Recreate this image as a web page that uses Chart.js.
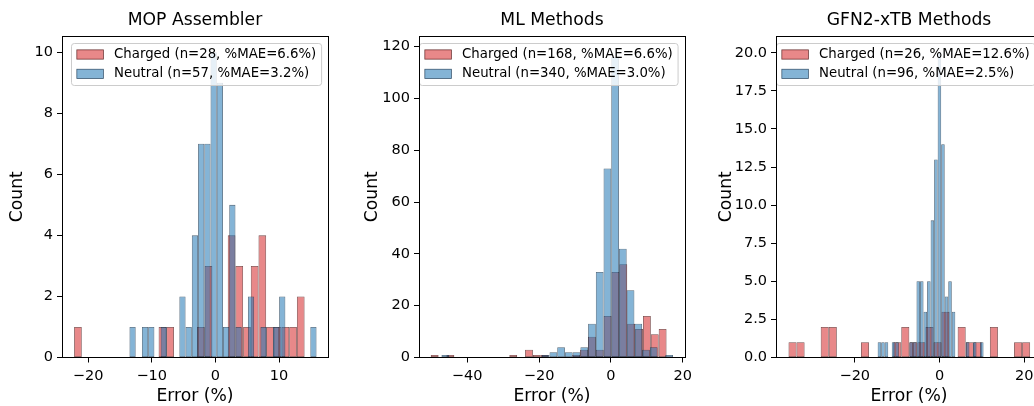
<!DOCTYPE html>
<html>
<head>
<meta charset="utf-8">
<script src="https://cdn.jsdelivr.net/npm/chart.js@4.4.1/dist/chart.umd.min.js"></script>
<style>
  html, body { margin: 0; padding: 0; background: #ffffff; overflow: hidden; width: 1034px; height: 406px; position: relative; }
  .panel { position: absolute; top: 0; height: 406px; }
  canvas { display: block; }
</style>
</head>
<body>
<div class="panel" style="left:0px"><canvas id="c1" width="340" height="406"></canvas></div>
<div class="panel" style="left:355px"><canvas id="c2" width="342" height="406"></canvas></div>
<div class="panel" style="left:709px"><canvas id="c3" width="345" height="406"></canvas></div>
<script>
// ---------------- data ----------------
const panelTitles = ['MOP Assembler', 'ML Methods', 'GFN2-xTB Methods'];
const xAxisLabel = 'Error (%)';
const yAxisLabel = 'Count';

// MOP Assembler: histogram bin ranges [first edge, last edge] and counts per bin (30 bins)
const mopChargedRange = [-22.2, 14.02];
const mopChargedCounts = [1,0,0,0,0,0,0,0,0,0,0,1,1,0,0,0,1,3,0,0,4,3,1,3,4,1,1,1,1,2];
const mopNeutralRange = [-13.5, 15.9];
const mopNeutralCounts = [1,0,1,1,0,1,0,0,2,1,4,7,7,10,9,1,5,1,0,2,0,1,0,1,2,0,0,0,0,1];
const mopLegend = ['Charged (n=28, %MAE=6.6%)', 'Neutral (n=57, %MAE=3.2%)'];
const mopXTicks = [-20, -10, 0, 10];
const mopYTicks = [0, 2, 4, 6, 8, 10];

// ML Methods
const mlChargedRange = [-50.14, 15.47];
const mlChargedCounts = [1,0,1,0,0,0,0,0,0,0,1,0,3,1,1,0,0,0,1,3,8,3,16,33,36,13,11,16,9,11];
const mlNeutralRange = [-47.15, 17.26];
const mlNeutralCounts = [1,0,0,0,0,0,0,0,0,0,0,0,0,1,2,4,2,2,4,13,33,73,116,42,26,13,3,4,0,1];
const mlLegend = ['Charged (n=168, %MAE=6.6%)', 'Neutral (n=340, %MAE=3.0%)'];
const mlXTicks = [-40, -20, 0, 20];
const mlYTicks = [0, 20, 40, 60, 80, 100, 120];

// GFN2-xTB Methods
const gfnChargedRange = [-35.65, 21.4];
const gfnChargedCounts = [1,1,0,0,2,2,0,0,0,1,0,0,0,1,2,1,1,2,1,3,0,2,1,1,0,2,0,0,1,1];
const gfnNeutralRange = [-14.6, 10.4];
const gfnNeutralCounts = [1,1,1,0,1,1,0,0,0,1,1,5,5,3,5,9,13,20,14,4,5,3,0,0,0,1,0,1,0,1];
const gfnLegend = ['Charged (n=26, %MAE=12.6%)', 'Neutral (n=96, %MAE=2.5%)'];
const gfnXTicks = [-20, 0, 20];
const gfnYTicks = [0, 2.5, 5, 7.5, 10, 12.5, 15, 17.5, 20];

// ---------------- styling ----------------
const FONT = 'DejaVu Sans';
Chart.defaults.font.family = FONT;
Chart.defaults.color = '#000000';

const RED_FACE = 'rgba(214,39,40,0.55)';
const RED_EDGE = 'rgba(60,0,0,0.7)';
const BLUE_FACE = 'rgba(31,119,180,0.55)';
const BLUE_EDGE = 'rgba(15,45,70,0.72)';

const TICK_SIZE = 14.5;
const LABEL_SIZE = 17.2;
const LEGEND_SIZE = 13.3;

function binPoints(range, counts) {
  const w = (range[1] - range[0]) / counts.length;
  return counts.map((c, i) => ({ x: range[0] + w * (i + 0.5), y: c }));
}

function fmtMinus(v) {
  return v < 0 ? '\u2212' + Math.abs(v) : String(v);
}

const framePlugin = {
  id: 'frame',
  afterDatasetsDraw(chart) {
    const ctx = chart.ctx, a = chart.chartArea;
    ctx.save();
    ctx.strokeStyle = '#000000';
    ctx.lineWidth = 1;
    ctx.beginPath();
    const yt = Math.floor(a.top) + 0.5;
    const xr = Math.round(a.right) + 0.5;
    ctx.moveTo(Math.round(a.left), yt);
    ctx.lineTo(xr + 0.5, yt);
    ctx.moveTo(xr, yt);
    ctx.lineTo(xr, Math.round(a.bottom));
    ctx.stroke();
    ctx.restore();
  }
};

const legendPlugin = {
  id: 'boxLegend',
  afterDatasetsDraw(chart) {
    const ctx = chart.ctx, a = chart.chartArea;
    const fs = LEGEND_SIZE;
    const ds = chart.data.datasets;
    ctx.save();
    ctx.font = fs + 'px "' + FONT + '"';
    const tw = Math.max(...ds.map(d => ctx.measureText(d.label).width));
    const pad = 0.4 * fs, hl = 2 * fs, hh = 0.7 * fs, htp = 0.8 * fs, pitch = 19.4;
    const w = pad + hl + htp + tw + pad;
    const h = 42;
    const x0 = Math.round(a.right - 7 - w) + 0.5, y0 = Math.round(a.top + 7) + 0.5;
    const r = 2.8;
    ctx.beginPath();
    ctx.moveTo(x0 + r, y0);
    ctx.lineTo(x0 + w - r, y0);
    ctx.quadraticCurveTo(x0 + w, y0, x0 + w, y0 + r);
    ctx.lineTo(x0 + w, y0 + h - r);
    ctx.quadraticCurveTo(x0 + w, y0 + h, x0 + w - r, y0 + h);
    ctx.lineTo(x0 + r, y0 + h);
    ctx.quadraticCurveTo(x0, y0 + h, x0, y0 + h - r);
    ctx.lineTo(x0, y0 + r);
    ctx.quadraticCurveTo(x0, y0, x0 + r, y0);
    ctx.closePath();
    ctx.fillStyle = 'rgba(255,255,255,0.8)';
    ctx.fill();
    ctx.strokeStyle = '#cccccc';
    ctx.lineWidth = 1;
    ctx.stroke();
    ds.forEach((d, i) => {
      const cy = y0 + 11 + i * pitch;
      const px = x0 + pad;
      ctx.fillStyle = d.backgroundColor;
      ctx.fillRect(px, cy - hh / 2, hl, hh);
      ctx.strokeStyle = d.borderColor;
      ctx.lineWidth = 0.8;
      ctx.strokeRect(px, cy - hh / 2, hl, hh);
      ctx.fillStyle = '#000000';
      ctx.textBaseline = 'middle';
      ctx.textAlign = 'left';
      ctx.fillText(d.label, px + hl + htp, cy);
    });
    ctx.restore();
  }
};

function makePanel(canvasId, cfg) {
  const tickFont = { family: FONT, size: TICK_SIZE };
  const labelFont = { family: FONT, size: LABEL_SIZE, lineHeight: '19px' };
  const barCommon = {
    borderWidth: 0.8,
    borderSkipped: false,
    grouped: false,
    categoryPercentage: 1.0,
    barPercentage: 1.0,
    inflateAmount: 0
  };
  return new Chart(document.getElementById(canvasId), {
    type: 'bar',
    data: {
      datasets: [
        Object.assign({
          label: cfg.legend[0],
          data: binPoints(cfg.chargedRange, cfg.chargedCounts),
          xAxisID: 'x',
          backgroundColor: RED_FACE,
          borderColor: RED_EDGE,
          order: 1
        }, barCommon),
        Object.assign({
          label: cfg.legend[1],
          data: binPoints(cfg.neutralRange, cfg.neutralCounts),
          xAxisID: 'xb',
          backgroundColor: BLUE_FACE,
          borderColor: BLUE_EDGE,
          order: 0
        }, barCommon)
      ]
    },
    options: {
      responsive: false,
      animation: false,
      devicePixelRatio: 1,
      events: [],
      layout: { padding: { left: 0, right: 12, top: 0, bottom: 0 } },
      plugins: {
        legend: { display: false },
        tooltip: { enabled: false },
        title: {
          display: true,
          text: cfg.title,
          fullSize: false,
          color: '#000000',
          font: { family: FONT, size: LABEL_SIZE, weight: 'normal', lineHeight: '20px' },
          padding: { top: 11, bottom: 5 }
        }
      },
      scales: {
        x: {
          type: 'linear',
          position: 'bottom',
          min: cfg.xMin,
          max: cfg.xMax,
          offset: false,
          afterBuildTicks: s => { s.ticks = cfg.xTicks.map(v => ({ value: v })); },
          afterFit: s => { s.height = 48.5; s.paddingLeft = 0; s.paddingRight = 0; },
          ticks: { color: '#000000', font: tickFont, padding: 5, maxRotation: 0, autoSkip: false, callback: v => fmtMinus(v) },
          grid: { display: true, drawOnChartArea: false, drawTicks: true, tickLength: 5, color: '#000000', tickColor: '#000000', tickWidth: 1, offset: false },
          border: { display: true, color: '#000000', width: 1, z: 1 },
          title: { display: true, text: xAxisLabel, color: '#000000', font: labelFont, padding: { top: 0, bottom: 0 } }
        },
        xb: {
          type: 'linear',
          axis: 'x',
          position: 'bottom',
          display: false,
          min: cfg.xMin,
          max: cfg.xMax,
          offset: false,
          grid: { offset: false }
        },
        y: {
          type: 'linear',
          position: 'left',
          min: 0,
          max: cfg.yMax,
          afterBuildTicks: s => { s.ticks = cfg.yTicks.map(v => ({ value: v })); },
          afterFit: s => { s.width = cfg.yAxisWidth; s.paddingTop = 0; s.paddingBottom = 0; },
          ticks: { color: '#000000', font: tickFont, padding: 4, callback: v => v.toFixed(cfg.yDecimals) },
          grid: { display: true, drawOnChartArea: false, drawTicks: true, tickLength: 5, color: '#000000', tickColor: '#000000', tickWidth: 1 },
          border: { display: true, color: '#000000', width: 1, z: 1 },
          title: { display: true, text: yAxisLabel, color: '#000000', font: labelFont, padding: { top: 8.5, bottom: 0 } }
        }
      }
    },
    plugins: [framePlugin, legendPlugin]
  });
}

makePanel('c1', {
  title: panelTitles[0], legend: mopLegend,
  chargedRange: mopChargedRange, chargedCounts: mopChargedCounts,
  neutralRange: mopNeutralRange, neutralCounts: mopNeutralCounts,
  xTicks: mopXTicks, yTicks: mopYTicks, yDecimals: 0,
  xMin: -24.1, xMax: 17.7, yMax: 10.53, yAxisWidth: 62
});
makePanel('c2', {
  title: panelTitles[1], legend: mlLegend,
  chargedRange: mlChargedRange, chargedCounts: mlChargedCounts,
  neutralRange: mlNeutralRange, neutralCounts: mlNeutralCounts,
  xTicks: mlXTicks, yTicks: mlYTicks, yDecimals: 0,
  xMin: -53.4, xMax: 20.6, yMax: 124.1, yAxisWidth: 64
});
makePanel('c3', {
  title: panelTitles[2], legend: gfnLegend,
  chargedRange: gfnChargedRange, chargedCounts: gfnChargedCounts,
  neutralRange: gfnNeutralRange, neutralCounts: gfnNeutralCounts,
  xTicks: gfnXTicks, yTicks: gfnYTicks, yDecimals: 1,
  xMin: -38.6, xMax: 24.2, yMax: 21.1, yAxisWidth: 67
});
</script>
</body>
</html>
